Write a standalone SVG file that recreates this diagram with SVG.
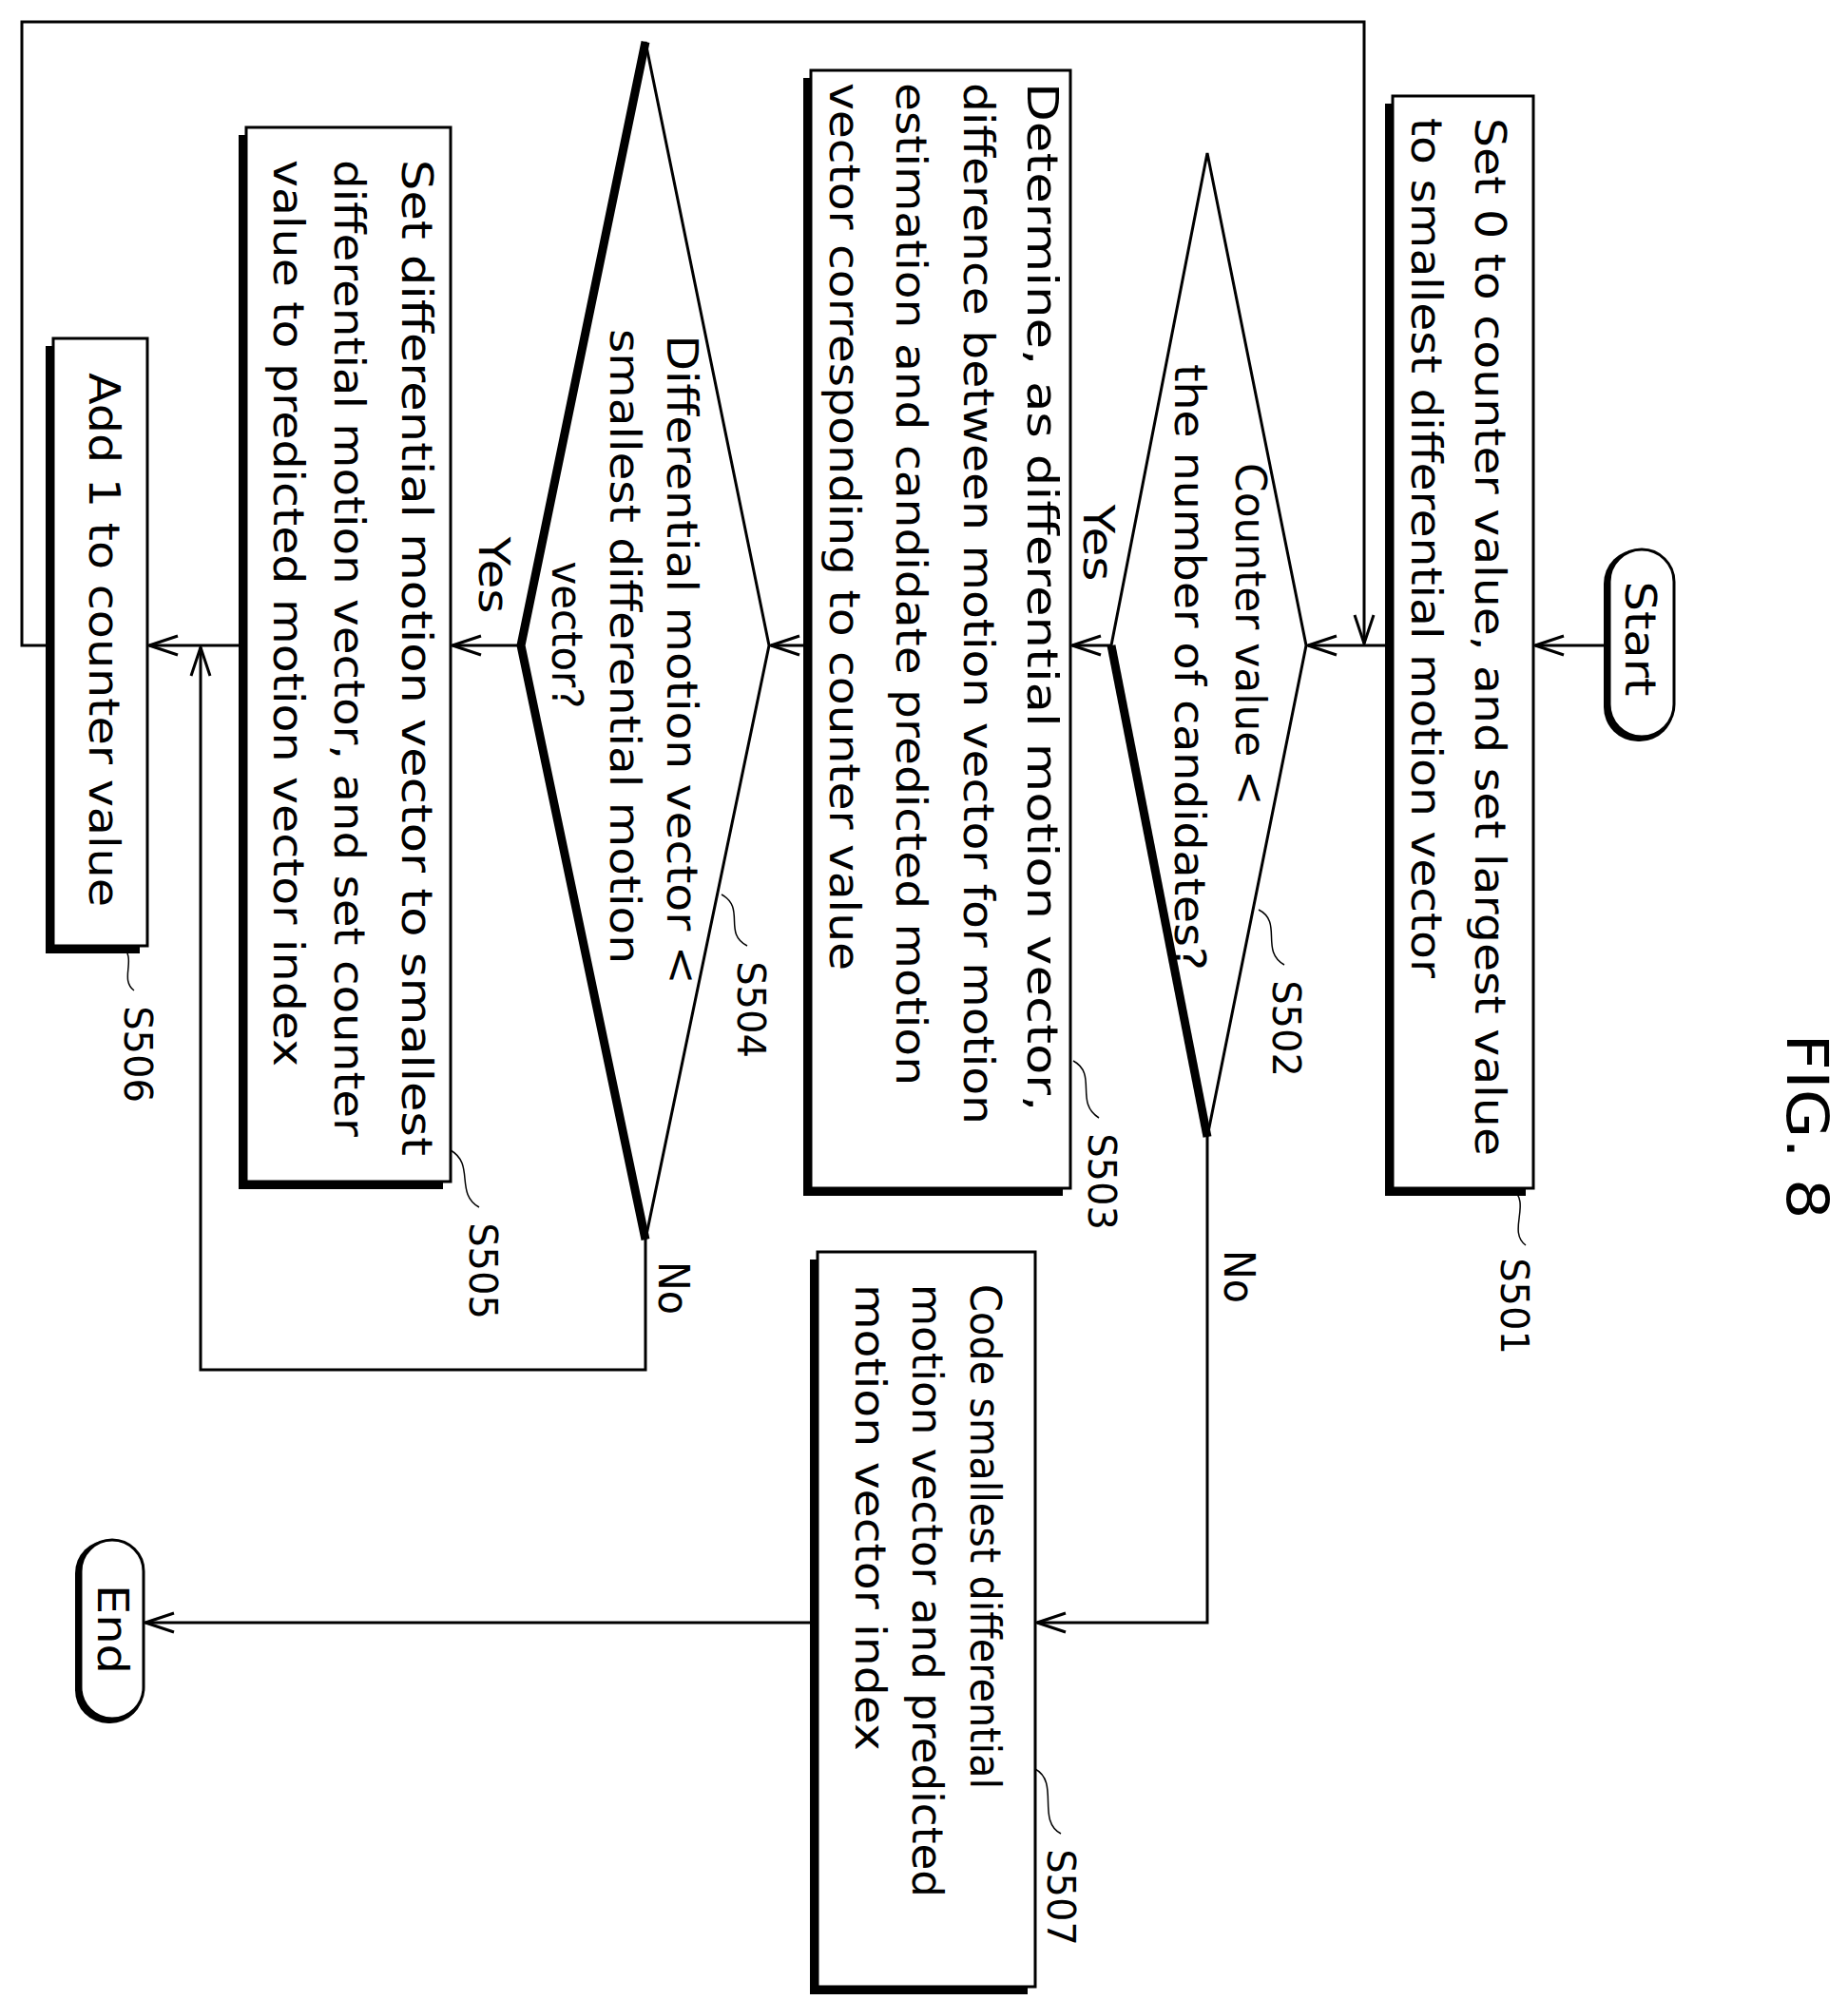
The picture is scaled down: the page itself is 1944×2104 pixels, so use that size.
<svg xmlns="http://www.w3.org/2000/svg" width="1944" height="2104" viewBox="0 0 1944 2104">
<style>
.t{font-family:"DejaVu Sans",Verdana,sans-serif;font-size:44px;fill:#000}
.l{font-family:"DejaVu Sans",Verdana,sans-serif;font-size:40px;fill:#000}
.box{fill:#fff;stroke:#000;stroke-width:3}
.sh{fill:#000}
.ln{fill:none;stroke:#000;stroke-width:3}
.ld{fill:none;stroke:#000;stroke-width:1.5}
</style>
<defs>
<marker id="ar" markerWidth="34" markerHeight="24" refX="32" refY="12" orient="auto" markerUnits="userSpaceOnUse">
<path d="M2,2 L32,12 L2,22" fill="none" stroke="#000" stroke-width="3"/>
</marker>
</defs>
<rect width="1944" height="2104" fill="#fff"/>
<g id="connectors">
<path class="ln" d="M1691,679 H1615" marker-end="url(#ar)"/>
<path class="ln" d="M1465,679 H1376" marker-end="url(#ar)"/>
<path class="ln" d="M56,679 H23 V23 H1435 V677" marker-end="url(#ar)"/>
<path class="ln" d="M1169,679 H1128" marker-end="url(#ar)"/>
<path class="ln" d="M853,679 H811" marker-end="url(#ar)"/>
<path class="ln" d="M548,679 H476" marker-end="url(#ar)"/>
<path class="ln" d="M259,679 H157" marker-end="url(#ar)"/>
<path class="ln" d="M679,1304 V1441 H211 V681" marker-end="url(#ar)"/>
<path class="ln" d="M1270,1196 V1707 H1091" marker-end="url(#ar)"/>
<path class="ln" d="M860,1707 H153" marker-end="url(#ar)"/>
<text class="t" transform="translate(1140,571) rotate(90)" text-anchor="middle" textLength="81" lengthAdjust="spacingAndGlyphs">Yes</text>
<text class="t" transform="translate(1288,1343) rotate(90)" text-anchor="middle" textLength="56" lengthAdjust="spacingAndGlyphs">No</text>
<text class="t" transform="translate(504,605) rotate(90)" text-anchor="middle" textLength="81" lengthAdjust="spacingAndGlyphs">Yes</text>
<text class="t" transform="translate(693,1355) rotate(90)" text-anchor="middle" textLength="56" lengthAdjust="spacingAndGlyphs">No</text>
</g>
<g id="start">
<rect x="1687" y="578" width="74" height="202" rx="36" fill="#000"/>
<rect x="1693" y="578" width="68" height="197" rx="34" class="box"/>
<text class="t" transform="translate(1710,672) rotate(90)" text-anchor="middle" textLength="121" lengthAdjust="spacingAndGlyphs">Start</text>
</g>
<g id="S501">
<rect x="1457" y="109" width="148" height="1149" class="sh"/>
<rect x="1465" y="101" width="148" height="1149" class="box"/>
<text class="t" transform="translate(1552,124) rotate(90)" textLength="1092" lengthAdjust="spacingAndGlyphs">Set 0 to counter value, and set largest value</text>
<text class="t" transform="translate(1485,124) rotate(90)" textLength="905" lengthAdjust="spacingAndGlyphs">to smallest differential motion vector</text>
<path class="ld" d="M1590,1250 C1612,1265 1585,1295 1605,1310"/>
<text class="l" transform="translate(1579,1374) rotate(90)" text-anchor="middle">S501</text>
</g>
<g id="S502">
<path d="M1270,161 L1374,679 L1270,1196 L1169,679 Z" class="box"/>
<path d="M1169,679 L1270,1196" fill="none" stroke="#000" stroke-width="9"/>
<text class="t" transform="translate(1300,667) rotate(90)" text-anchor="middle" textLength="360" lengthAdjust="spacingAndGlyphs">Counter value &lt;</text>
<text class="t" transform="translate(1236,702) rotate(90)" text-anchor="middle" textLength="638" lengthAdjust="spacingAndGlyphs">the number of candidates?</text>
<path class="ld" d="M1324,957 C1350,970 1325,1000 1351,1015"/>
<text class="l" transform="translate(1339,1082) rotate(90)" text-anchor="middle">S502</text>
</g>
<g id="S503">
<rect x="845" y="82" width="273" height="1176" class="sh"/>
<rect x="853" y="74" width="273" height="1176" class="box"/>
<text class="t" transform="translate(1081,87) rotate(90)" textLength="1082" lengthAdjust="spacingAndGlyphs">Determine, as differential motion vector,</text>
<text class="t" transform="translate(1014,87) rotate(90)" textLength="1096" lengthAdjust="spacingAndGlyphs">difference between motion vector for motion</text>
<text class="t" transform="translate(943,87) rotate(90)" textLength="1055" lengthAdjust="spacingAndGlyphs">estimation and candidate predicted motion</text>
<text class="t" transform="translate(873,87) rotate(90)" textLength="934" lengthAdjust="spacingAndGlyphs">vector corresponding to counter value</text>
<path class="ld" d="M1129,1116 C1155,1130 1130,1160 1156,1176"/>
<text class="l" transform="translate(1145,1243) rotate(90)" text-anchor="middle">S503</text>
</g>
<g id="S504">
<path d="M679,44 L809,679 L679,1304 L548,679 Z" class="box"/>
<path d="M679,44 L548,679 L679,1304" fill="none" stroke="#000" stroke-width="9"/>
<text class="t" transform="translate(702,694) rotate(90)" text-anchor="middle" textLength="683" lengthAdjust="spacingAndGlyphs">Differential motion vector &lt;</text>
<text class="t" transform="translate(642,680) rotate(90)" text-anchor="middle" textLength="668" lengthAdjust="spacingAndGlyphs">smallest differential motion</text>
<text class="t" transform="translate(581,668) rotate(90)" text-anchor="middle" textLength="155" lengthAdjust="spacingAndGlyphs">vector?</text>
<path class="ld" d="M759,941 C785,955 760,982 786,995"/>
<text class="l" transform="translate(776,1062) rotate(90)" text-anchor="middle">S504</text>
</g>
<g id="S505">
<rect x="251" y="142" width="215" height="1109" class="sh"/>
<rect x="259" y="134" width="215" height="1109" class="box"/>
<text class="t" transform="translate(423,168) rotate(90)" textLength="1048" lengthAdjust="spacingAndGlyphs">Set differential motion vector to smallest</text>
<text class="t" transform="translate(352,168) rotate(90)" textLength="1028" lengthAdjust="spacingAndGlyphs">differential motion vector, and set counter</text>
<text class="t" transform="translate(288,168) rotate(90)" textLength="954" lengthAdjust="spacingAndGlyphs">value to predicted motion vector index</text>
<path class="ld" d="M474,1210 C500,1225 478,1255 504,1270"/>
<text class="l" transform="translate(494,1337) rotate(90)" text-anchor="middle">S505</text>
</g>
<g id="S506">
<rect x="48" y="364" width="99" height="639" class="sh"/>
<rect x="56" y="356" width="99" height="639" class="box"/>
<text class="t" transform="translate(94,392) rotate(90)" textLength="562" lengthAdjust="spacingAndGlyphs">Add 1 to counter value</text>
<path class="ld" d="M128,995 C145,1008 125,1030 141,1042"/>
<text class="l" transform="translate(131,1109) rotate(90)" text-anchor="middle">S506</text>
</g>
<g id="S507">
<rect x="852" y="1325" width="229" height="773" class="sh"/>
<rect x="860" y="1317" width="229" height="773" class="box"/>
<text class="t" transform="translate(1021,1351) rotate(90)" textLength="531" lengthAdjust="spacingAndGlyphs">Code smallest differential</text>
<text class="t" transform="translate(960,1351) rotate(90)" textLength="645" lengthAdjust="spacingAndGlyphs">motion vector and predicted</text>
<text class="t" transform="translate(900,1351) rotate(90)" textLength="491" lengthAdjust="spacingAndGlyphs">motion vector index</text>
<path class="ld" d="M1089,1861 C1115,1875 1090,1915 1116,1929"/>
<text class="l" transform="translate(1102,1996) rotate(90)" text-anchor="middle">S507</text>
</g>
<g id="end">
<rect x="79" y="1620" width="72" height="193" rx="35" fill="#000"/>
<rect x="85" y="1620" width="66" height="188" rx="33" class="box"/>
<text class="t" transform="translate(103,1714) rotate(90)" text-anchor="middle" textLength="94" lengthAdjust="spacingAndGlyphs">End</text>
</g>
<g id="title">
<text transform="translate(1880,1185) rotate(90)" text-anchor="middle" textLength="195" lengthAdjust="spacingAndGlyphs" style="font-family:'DejaVu Sans',sans-serif;font-size:60px">FIG. 8</text>
</g>
</svg>
